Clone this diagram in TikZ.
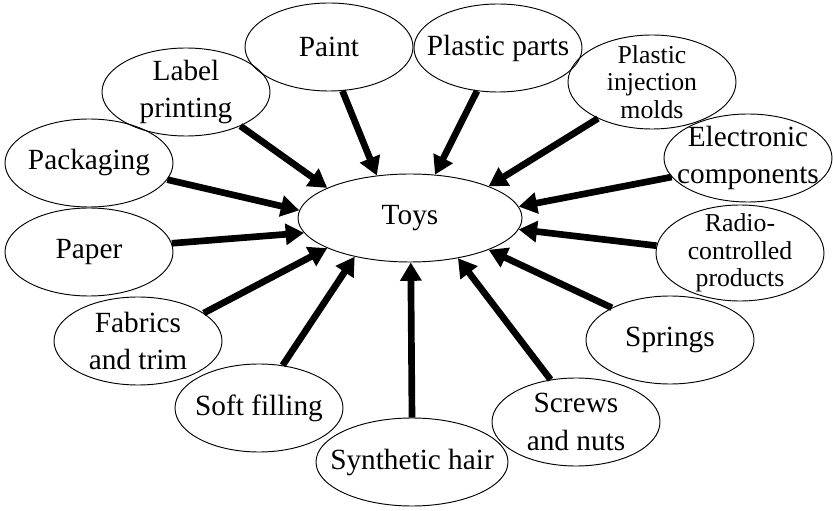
\documentclass[tikz,border=0pt]{standalone}
\usepackage{fontspec}
\setmainfont{Liberation Serif}
\usetikzlibrary{shapes.geometric, arrows.meta}

\newcommand{\partfont}{\fontsize{25}{32}\selectfont}
\newcommand{\partsmall}{\fontsize{22}{23.5}\selectfont}

\tikzset{
  part/.style={ellipse, draw, line width=0.8pt, inner sep=-3cm,
    minimum width=5.04cm, minimum height=2.64cm, align=center, font=\partfont},
  feed/.style={line width=0.2cm, -{Triangle[length=0.55cm, width=0.62cm]}}
}

\begin{document}
\begin{tikzpicture}[x=0.03cm, y=-0.03cm]
  \useasboundingbox (0, 0) rectangle (833, 511);

  % Centre
  \node[part, minimum width=6.72cm] (toys) at (410, 218) {Toys};

  % Suppliers, clockwise from the top
  \node[part] (paint) at (329, 47) {Paint};
  \node[part] (plastic) at (498, 48) {Plastic parts};
  \node[part, minimum height=2.82cm, font=\partsmall] (molds) at (652, 82) {Plastic\\injection\\molds};
  \node[part] (elec) at (748, 158) {Electronic\\components};
  \node[part, minimum height=2.88cm, font=\partsmall] (radio) at (740, 253) {Radio-\\controlled\\products};
  \node[part] (springs) at (670, 340) {Springs};
  \node[part] (screws) at (576, 422) {Screws\\and nuts};
  \node[part, minimum width=5.76cm] (hair) at (412, 462) {Synthetic hair};
  \node[part] (soft) at (259, 408) {Soft filling};
  \node[part] (fabric) at (138, 341) {Fabrics\\and trim};
  \node[part] (paper) at (89, 252) {Paper};
  \node[part] (pack) at (89, 163) {Packaging};
  \node[part] (label) at (186, 92) {Label\\printing};

  % Arrows into the centre
  \draw[feed] (paint.-73) -- (toys.128);
  \draw[feed] (plastic.-116) -- (toys.60);
  \draw[feed] (molds.-146) -- (toys.22);
  \draw[feed] (elec.-166) -- (toys.6);
  \draw[feed] (radio.175) -- (toys.-6);
  \draw[feed] (springs.151) -- (toys.-22);
  \draw[feed] (screws.121) -- (toys.-40);
  \draw[feed] (hair.90) -- (toys.-89);
  \draw[feed] (soft.61) -- (toys.-145);
  \draw[feed] (fabric.23) -- (toys.-160);
  \draw[feed] (paper.6) -- (toys.-172);
  \draw[feed] (pack.-12) -- (toys.176);
  \draw[feed] (label.-32) -- (toys.160);
\end{tikzpicture}
\end{document}
